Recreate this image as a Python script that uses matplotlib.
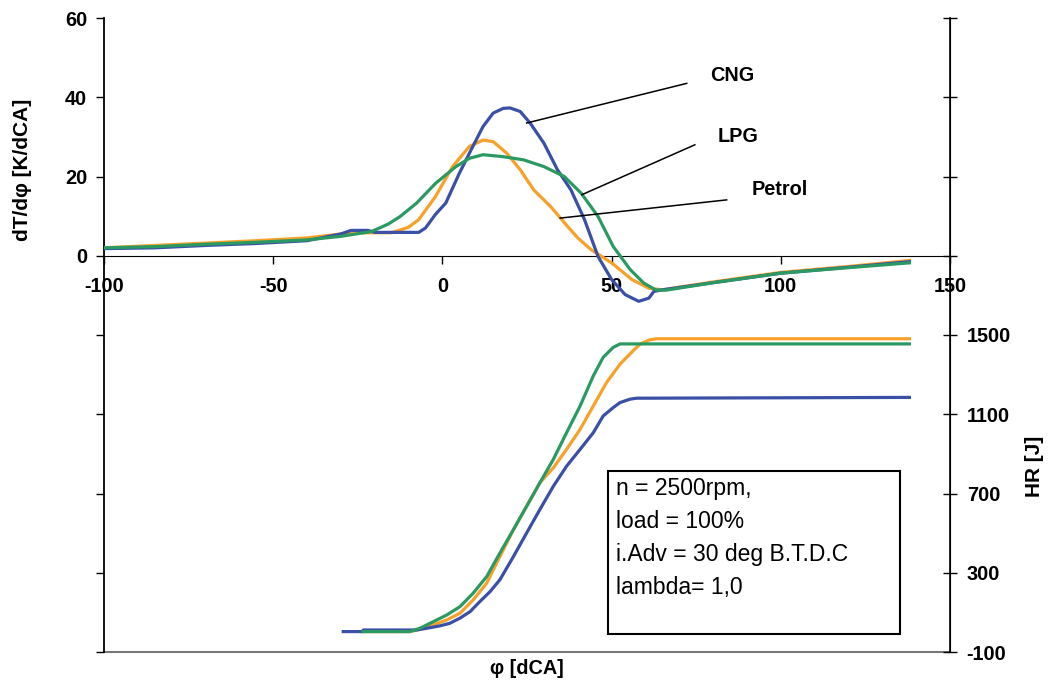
import matplotlib
matplotlib.use("Agg")
import matplotlib.pyplot as plt
from matplotlib.ticker import FixedLocator, FuncFormatter
from matplotlib.patches import Rectangle

plt.rcParams['font.family'] = ['Liberation Sans', 'DejaVu Sans']

# dT/dphi [K/dCA] vs crank angle
cng_dt_x = [-100, -85, -70, -55, -40, -30, -27, -22, -20, -7, -5, -2, 1, 5, 9, 12, 15, 18, 20, 23, 26, 30, 34, 38, 42, 46, 50, 54, 58, 61, 62.5, 65, 80, 100, 120, 138]
cng_dt_y = [1.8, 2.0, 2.6, 3.1, 3.8, 5.5, 6.4, 6.4, 5.9, 5.9, 7.0, 10.5, 13.3, 20.8, 27.6, 32.6, 36.0, 37.2, 37.3, 36.4, 33.4, 28.4, 21.7, 16.6, 9.1, -0.2, -6.0, -9.8, -11.5, -10.7, -9.0, -8.6, -6.8, -4.4, -2.9, -1.5]

petrol_dt_x = [-100, -85, -70, -55, -40, -30, -25, -15, -10, -7, -2, 3, 8, 12, 15, 19, 23, 27, 32, 37, 40, 44, 50, 56, 61, 65, 80, 100, 120, 138]
petrol_dt_y = [2.0, 2.6, 3.2, 3.8, 4.5, 5.5, 5.8, 5.8, 7.2, 9.1, 15.0, 22.5, 27.6, 29.2, 28.8, 25.9, 21.7, 16.6, 12.4, 7.4, 4.5, 1.5, -1.8, -6.0, -8.2, -8.6, -6.6, -4.2, -2.7, -1.2]

lpg_dt_x = [-100, -85, -70, -55, -40, -30, -21, -16, -12.5, -7.6, -2, 4, 8, 12, 18, 24, 30, 36, 41, 46, 50.5, 55.5, 59.5, 63, 66, 80, 100, 120, 138]
lpg_dt_y = [2.0, 2.3, 2.9, 3.4, 4.0, 4.9, 6.1, 8.0, 9.9, 13.3, 18.3, 22.5, 24.6, 25.5, 25.0, 24.2, 22.5, 20.0, 15.8, 9.9, 2.3, -3.5, -6.9, -8.6, -8.7, -6.8, -4.4, -3.0, -1.8]

# HR [J] vs crank angle
cng_hr_x = [-29.3, -23.5, -23.4, -7.6, -4.6, -0.7, 2.2, 5.2, 8.2, 11.1, 14.1, 17.0, 21.0, 24.9, 28.8, 32.8, 36.7, 40.7, 44.6, 47.5, 50.5, 52.5, 55.4, 57.4, 138]
cng_hr_y = [3, 3, 11, 11, 20, 32, 45, 71, 104, 155, 205, 265, 382, 501, 619, 737, 838, 923, 1007, 1091, 1134, 1159, 1176, 1181, 1185]

petrol_hr_x = [-23.4, -9.6, -6.6, -2.7, 1.3, 5.2, 9.1, 13.1, 17.0, 21.0, 24.9, 28.8, 32.8, 36.7, 40.7, 44.6, 48.5, 52.5, 55.4, 58.4, 61.3, 63.3, 138]
petrol_hr_y = [3, 3, 15, 37, 62, 96, 163, 248, 382, 518, 636, 754, 830, 923, 1024, 1142, 1260, 1353, 1404, 1454, 1476, 1481, 1481]

lpg_hr_x = [-23.4, -9.6, -6.6, -2.7, 1.3, 5.2, 9.1, 13.1, 17.0, 21.0, 24.9, 28.8, 32.8, 36.7, 40.7, 44.6, 47.5, 50.5, 52.5, 138]
lpg_hr_y = [3, 3, 20, 53, 87, 129, 197, 281, 400, 518, 636, 754, 873, 1007, 1142, 1294, 1387, 1438, 1455, 1455]

x_ticks = [-100, -50, 0, 50, 100, 150]
left_ticks = [-100, -80, -60, -40, -20, 0, 20, 40, 60]
right_ticks = [-100, 300, 700, 1100, 1500, 1900, 2300, 2700, 3100]

info_lines = ["n = 2500rpm,", "load = 100%", "i.Adv = 30 deg B.T.D.C", "lambda= 1,0"]

c_blue = '#3A4FA6'
c_orange = '#F8A128'
c_green = '#2B9A62'

FS = 14.3

fig = plt.figure(figsize=(10.51, 6.86), dpi=100)
ax1 = fig.add_axes([104/1051, 1-652/686, 846/1051, 634/686])
ax2 = ax1.twinx()

lw = 2.3
ax1.plot(petrol_dt_x, petrol_dt_y, color=c_orange, lw=lw, zorder=3)
ax1.plot(cng_dt_x, cng_dt_y, color=c_blue, lw=lw, zorder=4)
ax1.plot(lpg_dt_x, lpg_dt_y, color=c_green, lw=lw, zorder=5)

ax2.plot(petrol_hr_x, petrol_hr_y, color=c_orange, lw=lw, zorder=3)
ax2.plot(cng_hr_x, cng_hr_y, color=c_blue, lw=lw, zorder=4)
ax2.plot(lpg_hr_x, lpg_hr_y, color=c_green, lw=lw, zorder=5)

ax1.set_xlim(-100, 150)
ax1.set_ylim(-100, 60)
ax2.set_ylim(-100, 3100)

# spines
ax1.spines['top'].set_visible(False)
ax2.spines['top'].set_visible(False)
ax1.spines['bottom'].set_position(('data', 0))
ax1.spines['bottom'].set_color('black')
ax1.spines['left'].set_linewidth(1.3)
ax2.spines['right'].set_linewidth(1.2)
ax2.spines['left'].set_visible(False)
ax2.spines['bottom'].set_visible(False)
ax1.axhline(-100, color='#777777', lw=1.5, clip_on=False, zorder=1)

ax1.xaxis.set_major_locator(FixedLocator(x_ticks))
ax1.set_xticklabels([str(v) for v in x_ticks], fontsize=FS, fontweight='bold')
ax1.tick_params(axis='x', direction='out', length=6, width=1, pad=9)

ax1.yaxis.set_major_locator(FixedLocator(left_ticks))
ax1.yaxis.set_major_formatter(FuncFormatter(lambda v, p: '' if v < 0 else f'{int(v)}'))
ax1.tick_params(axis='y', direction='out', length=6, width=1, pad=6)
for t in ax1.get_yticklabels():
    t.set_fontsize(FS)
    t.set_fontweight('bold')

ax2.yaxis.set_major_locator(FixedLocator(right_ticks))
ax2.yaxis.set_major_formatter(FuncFormatter(lambda v, p: '' if v > 1500 else f'{int(v)}'))
ax2.tick_params(axis='y', direction='inout', length=10, width=1, pad=7)
for t in ax2.get_yticklabels():
    t.set_fontsize(FS)
    t.set_fontweight('bold')

fig.text(23/1051, 1-170/686, 'dT/d\u03c6 [K/dCA]', rotation=90, ha='center', va='center',
         fontsize=15, fontweight='bold')
fig.text(1034/1051, 1-466/686, 'HR [J]', rotation=90, ha='center', va='center',
         fontsize=15, fontweight='bold')
fig.text(527/1051, 1-668/686, '\u03c6 [dCA]', ha='center', va='center', fontsize=FS, fontweight='bold')

# annotations
ann_font = dict(fontsize=FS, fontweight='bold', ha='center', va='center')
ax1.plot([72.2, 24.9], [43.5, 33.5], color='black', lw=1.1, zorder=6)
ax1.text(85.6, 45.6, 'CNG', **ann_font)
ax1.plot([74.6, 41.2], [28.0, 15.4], color='black', lw=1.1, zorder=6)
ax1.text(87.4, 30.0, 'LPG', **ann_font)
ax1.plot([84.0, 34.8], [14.1, 9.5], color='black', lw=1.1, zorder=6)
ax1.text(99.8, 16.6, 'Petrol', **ann_font)

# info box
ax2.add_patch(Rectangle((0.596, 0.0284), 0.345, 0.257, transform=ax2.transAxes,
                        fill=False, edgecolor='black', lw=1.5, zorder=7))
for i, line in enumerate(info_lines):
    ax2.text(0.605, 0.258 - i * 0.052, line, transform=ax2.transAxes,
             fontsize=16.5, ha='left', va='center', zorder=8)

fig.savefig('out.png', dpi=100)
